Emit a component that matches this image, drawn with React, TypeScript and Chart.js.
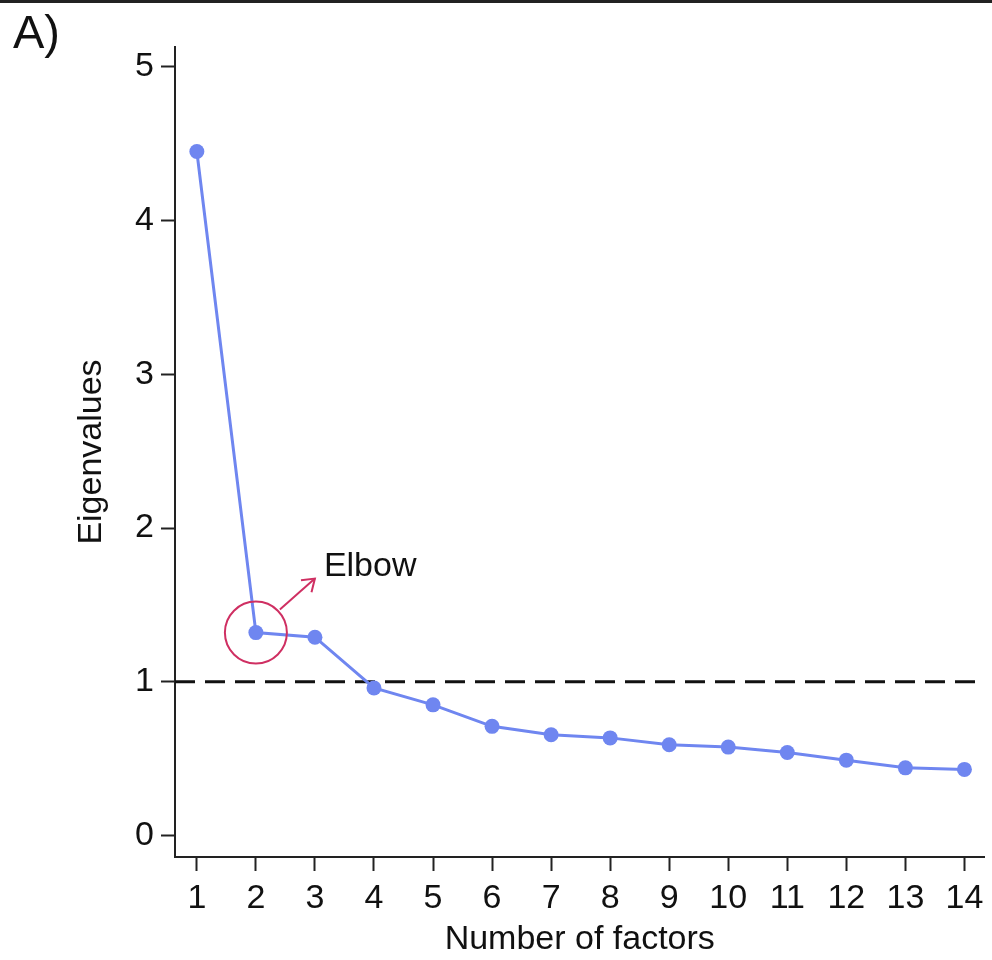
import React, { useEffect, useRef } from "react";
import { Chart, registerables } from "chart.js";

Chart.register(...registerables);

const factors = [1, 2, 3, 4, 5, 6, 7, 8, 9, 10, 11, 12, 13, 14];
const eigenvalues = [4.45, 1.32, 1.29, 0.96, 0.85, 0.71, 0.655, 0.635, 0.59, 0.575, 0.54, 0.49, 0.44, 0.43];
const xTickValues = [1, 2, 3, 4, 5, 6, 7, 8, 9, 10, 11, 12, 13, 14];
const yTickValues = [0, 1, 2, 3, 4, 5];
const threshold = 1;
const xRange = [0.63, 14.34];
const yRange = [-0.14, 5.13];
const elbowIndex = 1;
const panelLabel = "A)";
const elbowLabel = "Elbow";
const xTitle = "Number of factors";
const yTitle = "Eigenvalues";

const FONT = "'Liberation Sans', Arial, sans-serif";
const LINE_COLOR = "#6f86f0";
const ELBOW_COLOR = "#cf2f62";

const annotationPlugin = {
  id: "annotations",
  afterDraw(chart: any) {
    const ctx = chart.ctx;
    const xs = chart.scales.x;
    const ys = chart.scales.y;
    ctx.save();
    // top border
    ctx.fillStyle = "#222";
    ctx.fillRect(0, 0, chart.width, 3);
    // panel label
    ctx.fillStyle = "#111";
    ctx.font = `47px ${FONT}`;
    ctx.textAlign = "left";
    ctx.textBaseline = "alphabetic";
    ctx.fillText(panelLabel, 13, 48);
    // elbow circle
    const cx = xs.getPixelForValue(factors[elbowIndex]);
    const cy = ys.getPixelForValue(eigenvalues[elbowIndex]);
    ctx.strokeStyle = ELBOW_COLOR;
    ctx.lineWidth = 2;
    ctx.beginPath();
    ctx.arc(cx, cy, 31, 0, Math.PI * 2);
    ctx.stroke();
    // arrow
    const sx = cx + 24, sy = cy - 23;
    const ex = cx + 59, ey = cy - 54;
    ctx.beginPath();
    ctx.moveTo(sx, sy);
    ctx.lineTo(ex, ey);
    ctx.stroke();
    const ang = Math.atan2(ey - sy, ex - sx);
    const hl = 14;
    ctx.beginPath();
    ctx.moveTo(ex - hl * Math.cos(ang - 0.6), ey - hl * Math.sin(ang - 0.6));
    ctx.lineTo(ex, ey);
    ctx.lineTo(ex - hl * Math.cos(ang + 0.6), ey - hl * Math.sin(ang + 0.6));
    ctx.stroke();
    // elbow text
    ctx.fillStyle = "#111";
    ctx.font = `34px ${FONT}`;
    ctx.textAlign = "left";
    ctx.textBaseline = "alphabetic";
    ctx.fillText(elbowLabel, cx + 68, cy - 57);
    ctx.restore();
  },
};

export default function App() {
  const canvasRef = useRef<HTMLCanvasElement | null>(null);

  useEffect(() => {
    document.body.style.margin = "0";
    const canvas = canvasRef.current;
    if (!canvas) return;
    const chart = new Chart(canvas, {
      type: "line",
      data: {
        datasets: [
          {
            data: factors.map((f, i) => ({ x: f, y: eigenvalues[i] })),
            borderColor: LINE_COLOR,
            backgroundColor: LINE_COLOR,
            borderWidth: 3,
            pointRadius: 7.5,
            pointBorderWidth: 0,
            pointBackgroundColor: LINE_COLOR,
            tension: 0,
            order: 1,
          },
          {
            data: [
              { x: xRange[0], y: threshold },
              { x: xRange[1], y: threshold },
            ],
            borderColor: "#111",
            borderWidth: 3,
            borderDash: [20, 10],
            pointRadius: 0,
            tension: 0,
            order: 2,
          },
        ],
      },
      options: {
        responsive: false,
        animation: false,
        events: [],
        layout: { padding: { top: 47, right: 4, left: 0, bottom: 0 } },
        plugins: {
          legend: { display: false },
          tooltip: { enabled: false },
        },
        scales: {
          x: {
            type: "linear",
            min: xRange[0],
            max: xRange[1],
            afterBuildTicks: (scale: any) => {
              scale.ticks = xTickValues.map((v) => ({ value: v }));
            },
            afterFit: (scale: any) => {
              scale.height = 103;
            },
            grid: {
              display: true,
              drawOnChartArea: false,
              drawTicks: true,
              tickLength: 14,
              tickWidth: 2,
              tickColor: "#222",
            },
            border: { display: true, color: "#222", width: 2 },
            ticks: {
              color: "#111",
              font: { family: FONT, size: 34 },
              padding: 7,
              maxRotation: 0,
              autoSkip: false,
            },
            title: {
              display: true,
              text: xTitle,
              color: "#111",
              font: { family: FONT, size: 34 },
              padding: { top: 0, bottom: 0 },
            },
          },
          y: {
            type: "linear",
            min: yRange[0],
            max: yRange[1],
            afterBuildTicks: (scale: any) => {
              scale.ticks = yTickValues.map((v) => ({ value: v }));
            },
            afterFit: (scale: any) => {
              scale.width = 175;
            },
            grid: {
              display: true,
              drawOnChartArea: false,
              drawTicks: true,
              tickLength: 14,
              tickWidth: 2,
              tickColor: "#222",
            },
            border: { display: true, color: "#222", width: 2 },
            ticks: {
              color: "#111",
              font: { family: FONT, size: 34 },
              padding: 7,
              autoSkip: false,
            },
            title: {
              display: true,
              text: yTitle,
              color: "#111",
              font: { family: FONT, size: 34 },
              padding: { top: 71, bottom: 0 },
            },
          },
        },
      },
      plugins: [annotationPlugin],
    });
    return () => chart.destroy();
  }, []);

  return (
    <div style={{ width: 992, height: 960, background: "#fff" }}>
      <canvas ref={canvasRef} width={992} height={960} style={{ display: "block" }} />
    </div>
  );
}
